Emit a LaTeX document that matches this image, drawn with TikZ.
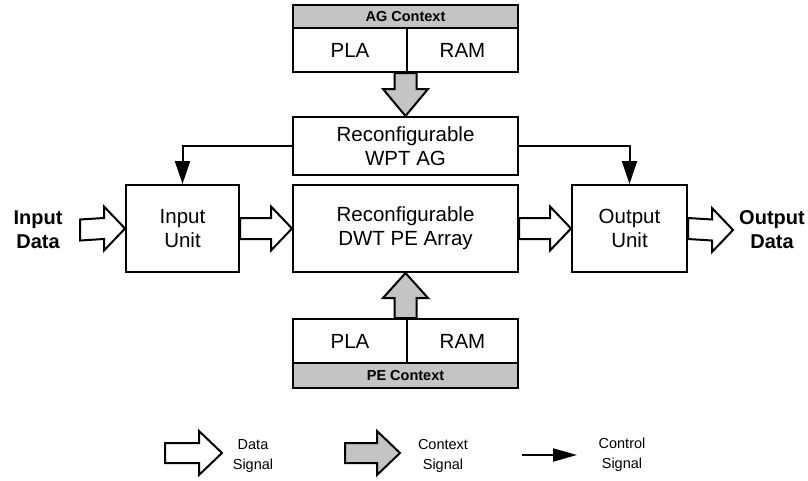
\documentclass[tikz,border=0pt]{standalone}
\usepackage{fontspec}
\setmainfont{Liberation Sans}
\usetikzlibrary{calc,arrows.meta}
\definecolor{ctxgray}{RGB}{196,196,196}
\tikzset{
  box/.style={draw, line width=2pt, fill=white, inner sep=0pt, align=center, font=\fontsize{20.5}{24}\selectfont},
  bar/.style={draw, line width=2pt, fill=ctxgray, inner sep=0pt, font=\bfseries\fontsize{14.5}{16}\selectfont},
  blk/.style={draw, line width=2pt, line join=miter, fill=white},
  ctxblk/.style={blk, fill=ctxgray},
  ctrl/.style={line width=2pt, -{Triangle[length=23pt,width=15pt]}},
  lbl/.style={align=center, font=\bfseries\fontsize{20}{24}\selectfont, inner sep=0pt},
  legtxt/.style={align=center, font=\fontsize{14.5}{20}\selectfont, inner sep=0pt}
}
% horizontal block arrow: start, tip, style, shaft half, head half, head length
\newcommand{\hblk}[6]{\draw[#3] ($(#1)+(0,-#4)$) -- ($(#2)+(-#6,-#4)$) -- ($(#2)+(-#6,-#5)$) -- (#2) -- ($(#2)+(-#6,#5)$) -- ($(#2)+(-#6,#4)$) -- ($(#1)+(0,#4)$) -- cycle;}
% vertical block arrow (y grows downward), sign +1 for down, -1 for up
\newcommand{\vblk}[7]{\draw[#3] ($(#1)+(-#4,0)$) -- ($(#2)+(-#4,-#7*#6)$) -- ($(#2)+(-#5,-#7*#6)$) -- (#2) -- ($(#2)+(#5,-#7*#6)$) -- ($(#2)+(#4,-#7*#6)$) -- ($(#1)+(#4,0)$) -- cycle;}
\begin{document}
\begin{tikzpicture}[x=1pt,y=-1pt]
\useasboundingbox (0,0) rectangle (808,480);
% AG context
\node[bar, minimum width=225pt, minimum height=23pt] (agbar) at (405.5,16.5) {AG Context};
\node[box, minimum width=114pt, minimum height=44pt] (agpla) at (350,50) {PLA};
\node[box, minimum width=111pt, minimum height=44pt] (agram) at (462.5,50) {RAM};
% WPT AG
\node[box, minimum width=225pt, minimum height=58pt] (wpt) at (405.5,146) {Reconfigurable\\WPT AG};
% main row
\node[box, minimum width=113pt, minimum height=87pt] (inu) at (182.5,228.5) {Input\\Unit};
\node[box, minimum width=225pt, minimum height=87pt] (dwt) at (405.5,228.5) {Reconfigurable\\DWT PE Array};
\node[box, minimum width=115pt, minimum height=87pt] (outu) at (629.5,228.5) {Output\\Unit};
% PE context
\node[box, minimum width=114pt, minimum height=44pt] (pepla) at (350,341) {PLA};
\node[box, minimum width=111pt, minimum height=44pt] (peram) at (462.5,341) {RAM};
\node[bar, minimum width=225pt, minimum height=25pt] (pebar) at (405.5,375.5) {PE Context};
% labels
\node[lbl] (indata) at (38,230) {Input\\Data};
\node[lbl] (outdata) at (772,230) {Output\\Data};
\coordinate (instart) at (80,230);
\coordinate (outtip) at (733,230);
% context arrows
\vblk{wpt.north |- agpla.south}{wpt.north}{ctxblk}{11}{22.5}{27}{1}
\vblk{dwt.south |- pepla.north}{dwt.south}{ctxblk}{11}{22.5}{25}{-1}
% data arrows
\hblk{instart}{inu.west}{blk}{10.5}{22}{21}
\hblk{inu.east}{dwt.west}{blk}{10.5}{22}{21}
\hblk{dwt.east}{outu.west}{blk}{10.5}{22}{21}
\hblk{outu.east}{outtip}{blk}{10.5}{22}{21}
% control
\draw[ctrl] (wpt.west) -| (inu.north);
\draw[ctrl] (wpt.east) -| (outu.north);
% legend
\coordinate (l1a) at (165,453); \coordinate (l1b) at (222,453);
\coordinate (l2a) at (345,453); \coordinate (l2b) at (400,453);
\coordinate (l3a) at (522,455); \coordinate (l3b) at (577,455);
\hblk{l1a}{l1b}{blk}{10}{22}{23}
\hblk{l2a}{l2b}{ctxblk}{10}{22}{23}
\draw[line width=2pt, -{Triangle[length=24pt,width=13pt]}] (l3a) -- (l3b);
\node[legtxt] (t1) at (253,456) {Data\\Signal};
\node[legtxt] (t2) at (443,456) {Context\\Signal};
\node[legtxt] (t3) at (622,455) {Control\\Signal};
\end{tikzpicture}
\end{document}
